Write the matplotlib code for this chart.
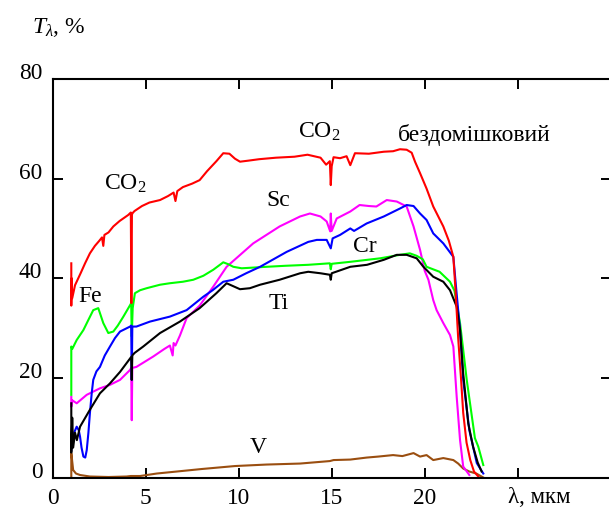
import matplotlib
matplotlib.use("Agg")
import matplotlib.pyplot as plt

plt.rcParams['font.family'] = ['Liberation Serif', 'DejaVu Serif']
plt.rcParams['mathtext.fontset'] = 'custom'
plt.rcParams['mathtext.rm'] = 'Liberation Serif'
plt.rcParams['mathtext.it'] = 'Liberation Serif:italic'

# ---- data (wavelength, um ; transmittance, %) ----
undoped_x = [1.0, 1.0, 1.02, 1.05, 1.2, 1.5, 1.74, 2.0, 2.27, 2.5, 2.65, 2.72, 2.78, 3.0, 3.26, 3.6, 4.06, 4.2, 4.23,
             4.26, 4.3, 4.4, 4.8, 5.2, 5.77, 6.2, 6.5, 6.6, 6.7, 7.0, 7.5, 7.9, 8.3, 8.8, 9.17, 9.5, 9.8, 10.07,
             10.5, 11.1, 12.0, 13.0, 13.7, 14.4, 14.7, 14.9, 14.95, 15.0, 15.1, 15.45, 15.8, 16.0, 16.25, 17.0,
             17.8, 18.3, 18.67, 19.03, 19.3, 19.48, 19.75, 20.1, 20.46, 21.0, 21.3, 21.54, 21.65, 21.8, 21.95,
             22.07, 22.25, 22.45, 22.65, 22.88]
undoped_y = [43, 34.5, 40, 36, 38.6, 41, 43, 45, 46.5, 47.5, 48.2, 46.5, 48.7, 49.2, 50.4, 51.5, 52.7, 53.2, 35,
             52.8, 53.1, 53.5, 54.5, 55.2, 55.7, 56.5, 57.2, 55.5, 57.5, 58.3, 59, 59.7, 61.5, 63.5, 65.1, 65, 64,
             63.4, 63.6, 63.9, 64.2, 64.4, 64.8, 64.2, 62.8, 63.5, 58.7, 62.5, 64.3, 64.1, 64.5, 62.7, 65.1, 65,
             65.4, 65.5, 65.9, 65.8, 65.2, 63.4, 61.1, 58, 54.4, 50.4, 47.5, 44.3, 38, 28, 20,
             13, 7, 3.5, 1.2, 0.2]

fe_x = [1.0, 1.0, 1.05, 1.29, 1.65, 1.9, 2.18, 2.45, 2.72, 2.99, 3.26, 3.5, 3.8, 4.16, 4.22, 4.25, 4.3, 4.42, 4.7,
        5.05, 5.77, 6.3, 7.0, 7.56, 8.1, 8.63, 9.17, 9.45, 9.71, 10.16, 11.5, 12.5, 13.74, 14.9, 14.95, 15.0, 16.0,
        17.6, 18.67, 19.2, 19.57, 19.9, 20.1, 20.8, 21.36, 21.6, 21.9, 22.26, 22.7, 22.88, 23.15]
fe_y = [16.6, 26.3, 25.8, 27.6, 29.6, 31.5, 33.6, 34, 31, 29, 29.3, 30.5, 32.3, 34.6, 35, 28.3, 34, 37, 37.6,
        38, 38.7, 39, 39.3, 39.7, 40.5, 41.7, 43.2, 42.8, 42.3, 42, 42.3, 42.5, 42.7, 43, 41.8, 42.9, 43.3,
        44, 44.7, 45, 44.5, 43.8, 42.3, 41.3, 39.3, 37.5, 31, 19.6, 7.9, 6.2, 2.5]

cr_x = [1.0, 1.05, 1.15, 1.29, 1.4, 1.47, 1.55, 1.65, 1.75, 1.83, 1.92, 2.0, 2.1, 2.18, 2.35, 2.54, 2.8, 3.08,
        3.35, 3.62, 4.16, 4.22, 4.25, 4.28, 4.5, 5.23, 6.3, 7.2, 8.1, 8.6, 9.17, 9.71, 10.4, 11.15, 12.58, 13.74,
        14.2, 14.73, 14.95, 15.05, 15.45, 16.0, 16.2, 16.88, 17.8, 18.67, 19.03, 19.4, 19.75, 20.1, 20.46, 21.0,
        21.54, 21.7, 21.9, 22.07, 22.4, 22.8, 23.15]
cr_y = [5.5, 8, 9, 10.2, 9.5, 8.2, 6, 4.2, 4.0, 5.5, 9, 12.9, 17, 19.6, 21.3, 22.2, 24.5, 26.3,
        28, 29.3, 30.3, 30.5, 19.6, 30.3, 30.3, 31.3, 32.3, 33.6, 36.3, 37.6, 39.3, 39.7, 41, 42.3, 45.3, 47.3,
        47.7, 47.7, 46, 48, 48.7, 50, 49.5, 51, 52.4, 54, 54.7, 54.5, 53, 51.7, 49, 47,
        44.3, 37.6, 29.6, 19.6, 9.5, 2.9, 0.8]

sc_x = [1.0, 1.0, 1.05, 1.29, 1.83, 2.54, 3.08, 3.62, 4.16, 4.22, 4.25, 4.28, 4.5, 5.41, 6.0, 6.3, 6.45, 6.5,
        6.6, 6.84, 7.2, 7.9, 8.63, 9.35, 10.78, 12.2, 13.3, 13.83, 14.4, 14.73, 14.92, 14.95, 15.0, 15.27, 16.0,
        16.5, 17.0, 17.4, 17.96, 18.5, 19.03, 19.4, 19.75, 20.0, 20.2, 20.46, 20.64, 21.0, 21.36, 21.54, 21.72,
        21.9, 22.07, 22.4]
sc_y = [16.2, 14.2, 15.5, 14.9, 16.6, 17.9, 18.6, 19.6, 21.6, 22, 11.5, 22, 22.2, 24.3, 25.8, 26.5, 24.5, 27,
        26.5, 28.5, 32, 34.5, 38.3, 42.3, 47, 50.4, 52.4, 53, 52.4, 51.4, 49.4, 53, 49.5, 52, 53.4,
        54.7, 54.5, 54.4, 55.7, 55.4, 54.4, 50.4, 45.7, 41.5, 39.7, 35.6, 33.6, 31, 28.6, 26.3, 16.2,
        7.5, 2.2, 0.5]

ti_x = [1.0, 1.0, 1.05, 1.1, 1.2, 1.3, 1.47, 2.0, 2.54, 3.08, 3.62, 4.16, 4.22, 4.25, 4.28, 4.4, 4.87, 5.77,
        6.84, 7.9, 8.8, 9.35, 10.07, 10.6, 11.15, 12.2, 13.3, 13.74, 14.4, 14.9, 14.95, 15.0, 16.0, 16.9, 17.8,
        18.5, 19.03, 19.57, 19.93, 20.46, 21.0, 21.36, 21.72, 21.9, 22.07, 22.34, 22.6, 22.85, 23.06]
ti_y = [14.9, 5, 12, 6, 9, 7.5, 10.2, 13.6, 16.9, 18.9, 21.2, 23.9, 24.2, 19.6, 24.5, 25, 26.3, 29,
        31.3, 34, 37, 39, 37.8, 38, 38.7, 39.7, 41, 41.3, 41, 40.7, 39.7, 41, 42.3, 42.7, 43.7,
        44.7, 44.7, 44, 42.3, 40.3, 39.3, 37.6, 34.3, 29.6, 20.9, 10.9, 6.2, 3, 1.2]

v_x = [1.0, 1.0, 1.1, 1.25, 1.47, 2.0, 3.0, 3.97, 4.2, 4.7, 5.6, 6.67, 8.0, 9.8, 11.5, 13.3, 14.9, 15.1, 16.0,
       16.88, 17.5, 18.3, 18.8, 19.4, 19.75, 20.1, 20.46, 21.0, 21.54, 21.8, 22.07, 22.4, 22.77, 23.15]
v_y = [0, 4.9, 1.5, 0.8, 0.5, 0.2, 0.1, 0.2, 0.3, 0.3, 0.8, 1.2, 1.7, 2.3, 2.6, 2.8, 3.3, 3.5, 3.6,
       4.0, 4.2, 4.5, 4.3, 4.9, 4.2, 4.5, 3.5, 3.9, 3.5, 2.8, 1.8, 1.2, 0.8, 0]

x_ticks = [0, 5, 10, 15, 20, 25, 30]
x_ticklabels = ['0', '5', '10', '15', '20', '', '']
y_ticks = [0, 20, 40, 60, 80]

# ---- figure ----
W, H = 609, 508
fig = plt.figure(figsize=(W / 100, H / 100), dpi=100)
left, right, top, bottom = 52.7, 610.7, 79.0, 477.5
ax = fig.add_axes([left / W, (H - bottom) / H, (right - left) / W, (bottom - top) / H])
ax.set_xlim(0, 30)
ax.set_ylim(0, 80)

lw = 1.5
ax.plot(v_x, v_y, color='#9a4e10', lw=lw)
ax.plot(sc_x, sc_y, color='#ff00ff', lw=lw)
ax.plot(fe_x, fe_y, color='#00ff00', lw=lw)
ax.plot(cr_x, cr_y, color='#0000ff', lw=lw)
ax.plot(ti_x, ti_y, color='black', lw=lw)
ax.plot(undoped_x, undoped_y, color='#ff0000', lw=lw)

for s in ax.spines.values():
    s.set_linewidth(1.5)

ax.set_xticks(x_ticks)
ax.set_xticklabels(x_ticklabels)
ax.set_yticks(y_ticks)
ax.tick_params(axis='both', which='both', direction='in', length=7, width=1.4,
               top=True, right=True, labelsize=16.8)
ax.tick_params(axis='x', pad=7.5)
ax.tick_params(axis='y', pad=7.5)
for lab in ax.get_yticklabels():
    lab.set_verticalalignment('baseline')

fs = 17
ax.text(2.76, 57.7, 'CO$_2$', fontsize=fs)
ax.text(13.2, 68.2, 'CO$_2$', fontsize=fs)
ax.text(18.55, 67.6, 'бездомішковий', fontsize=fs)
ax.text(11.5, 54.5, 'Sc', fontsize=fs)
ax.text(16.15, 45.3, 'Cr', fontsize=fs)
ax.text(1.38, 35.2, 'Fe', fontsize=fs)
ax.text(11.6, 33.8, 'Ti', fontsize=fs)
ax.text(10.6, 4.9, 'V', fontsize=fs)

fig.text(32 / W, (H - 33.3) / H, r'$T_{\lambda}$, %', fontsize=17, va='baseline', ha='left')
fig.text(508 / W, (H - 503) / H, 'λ, мкм', fontsize=16.5, va='baseline', ha='left')

fig.savefig('out.png', dpi=100)
